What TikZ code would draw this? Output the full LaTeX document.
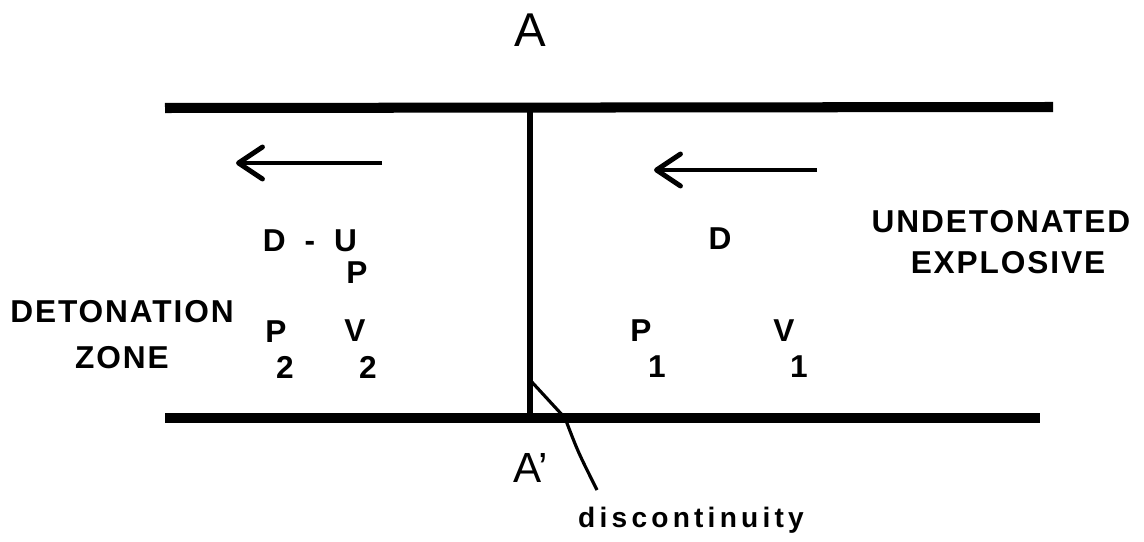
\documentclass[tikz,border=0pt]{standalone}
\usepackage{fontspec}
\setmainfont{Liberation Sans}
\newfontfamily\plotfont[LetterSpace=6,BoldFont={Liberation Sans Bold}]{Liberation Sans}
\newfontfamily\plotwide[LetterSpace=15]{Liberation Sans}
\usepackage{xcolor}
\usepackage{tikz}
\usetikzlibrary{arrows.meta}
\definecolor{ink}{HTML}{000000}

\begin{document}
\begin{tikzpicture}[x=0.2mm,y=-0.2mm,
    wall/.style={ink,line width=5.7pt},
    flow/.style={ink,line width=2.8pt,-{Straight Barb[length=4.8mm,width=6.4mm,round]}},
    lbl/.style={text=ink,inner sep=0pt,font=\plotfont\bfseries\fontsize{18}{20}\selectfont},
    tag/.style={text=ink,inner sep=0pt,font=\fontsize{27}{30}\selectfont}]
    \useasboundingbox (0,0) rectangle (1144,542);
    \draw[wall](165,108)--(1053,107); \draw[wall](165,418)--(1040,418);
    \draw[ink,line width=3.2pt](530,108)--(530,418);
    \node[tag] (topA) at (530,30){A}; \node[tag,font=\fontsize{24}{26}\selectfont] (botA) at (531,468){A'};
    \coordinate (ltail) at (382,163); \coordinate (lhead) at (236,163);
    \coordinate (rtail) at (817,170); \coordinate (rhead) at (654,170);
    \draw[flow](ltail)--(lhead); \draw[flow](rtail)--(rhead);
    \node[lbl] (du) at (310,241){D\hspace{0.6em}-\hspace{0.6em}U}; \node[lbl] (dusub) at (357,273){P};
    \node[lbl] (detn) at (122,312){DETONATION}; \node[lbl] (zone) at (122,358){ZONE};
    \node[lbl] (ptwo) at (276,332){P}; \node[lbl] (ptwosub) at (285,367){2};
    \node[lbl] (vtwo) at (355,331){V}; \node[lbl] (vtwosub) at (368,367){2};
    \node[lbl] (dee) at (720,239){D};
    \node[lbl] (pone) at (641,331){P}; \node[lbl] (ponesub) at (657,367){1};
    \node[lbl] (vone) at (784,331){V}; \node[lbl] (vonesub) at (799,367){1};
    \node[lbl] (undet) at (1001,222){UNDETONATED}; \node[lbl] (expl) at (1008,263){EXPLOSIVE};
    \node[lbl,font=\plotwide\bfseries\fontsize{16}{18}\selectfont] (disc) at (691,520){discontinuity};
    \coordinate (kink) at (530,380); \coordinate (lead) at (597,490);
    \draw[ink,line width=1.8pt](kink)--(565,418) .. controls (578,452) .. (lead);
  \end{tikzpicture}
\end{document}
